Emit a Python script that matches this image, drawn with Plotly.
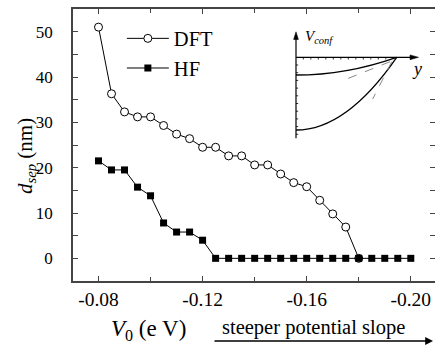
import plotly.graph_objects as go

# ---- data ----
v0_dft = [-0.080, -0.085, -0.090, -0.095, -0.100, -0.105, -0.110, -0.115, -0.120, -0.125,
          -0.130, -0.135, -0.140, -0.145, -0.150, -0.155, -0.160, -0.165, -0.170, -0.175, -0.180]
dsep_dft = [51.0, 36.3, 32.3, 31.2, 31.2, 29.3, 27.4, 26.4, 24.5, 24.5,
            22.6, 22.6, 20.6, 20.6, 18.6, 16.7, 15.8, 12.8, 9.8, 6.9, 0.0]

v0_hf = [-0.080, -0.085, -0.090, -0.095, -0.100, -0.105, -0.110, -0.115, -0.120, -0.125,
         -0.130, -0.135, -0.140, -0.145, -0.150, -0.155, -0.160, -0.165, -0.170, -0.175,
         -0.180, -0.185, -0.190, -0.195, -0.200]
dsep_hf = [21.5, 19.5, 19.5, 15.7, 13.8, 7.8, 5.8, 5.8, 4.0, 0.0,
           0.0, 0.0, 0.0, 0.0, 0.0, 0.0, 0.0, 0.0, 0.0, 0.0,
           0.0, 0.0, 0.0, 0.0, 0.0]

x_tickvals = [-0.08, -0.12, -0.16, -0.20]
x_ticktext = ["-0.08", "-0.12", "-0.16", "-0.20"]
y_tickvals = [0, 10, 20, 30, 40, 50]
y_ticktext = ["0", "10", "20", "30", "40", "50"]
y_inner_ticks = [0, 5, 10, 15, 20, 25, 30, 35, 40, 45, 50]

FONT = "Liberation Serif"

fig = go.Figure()
fig.add_trace(go.Scatter(
    x=v0_dft, y=dsep_dft, mode="lines+markers", name="DFT",
    line=dict(color="black", width=1),
    marker=dict(symbol="circle", size=8, color="white", line=dict(color="black", width=1)),
))
fig.add_trace(go.Scatter(
    x=v0_hf, y=dsep_hf, mode="lines+markers", name="HF",
    line=dict(color="black", width=1),
    marker=dict(symbol="square", size=7, color="black", line=dict(color="black", width=0)),
))

fig.update_layout(
    template="none",
    width=435, height=352,
    margin=dict(l=73, r=0, t=9, b=71),
    paper_bgcolor="white", plot_bgcolor="white",
    font=dict(family=FONT, color="black"),
    xaxis=dict(range=[-0.0702, -0.2093], tickmode="array", tickvals=x_tickvals, ticktext=x_ticktext,
               tickfont=dict(family=FONT, size=19.5, color="black"),
               showline=True, linecolor="#444", linewidth=1.5, mirror="ticks",
               ticks="inside", ticklen=5, tickwidth=1, tickcolor="#444",
               showgrid=False, zeroline=False,
               minor=dict(tickmode="array", tickvals=[-0.10, -0.14, -0.18], ticks="inside", ticklen=4,
                          tickcolor="#444", showgrid=False)),
    yaxis=dict(range=[-5, 55], tickmode="array", tickvals=y_tickvals, ticktext=y_ticktext,
               tickfont=dict(family=FONT, size=17, color="black"),
               showline=True, linecolor="#444", linewidth=1.5, mirror="ticks",
               ticks="outside", ticklen=15, tickwidth=1, tickcolor="rgba(0,0,0,0)",
               showgrid=False, zeroline=False,
               minor=dict(tickmode="array", tickvals=y_inner_ticks, ticks="inside", ticklen=5,
                          tickcolor="#444", showgrid=False)),
    xaxis2=dict(domain=[(290 - 73) / 362, (425 - 73) / 362], range=[290, 425], visible=False,
                anchor="y2", fixedrange=True),
    yaxis2=dict(domain=[(281 - 145) / 272, (281 - 25) / 272], range=[145, 25], visible=False,
                anchor="x2", fixedrange=True),
    showlegend=True,
    legend=dict(x=0.135, y=0.965, xanchor="left", yanchor="top", bgcolor="rgba(0,0,0,0)",
                font=dict(family=FONT, size=20.5, color="black"), itemwidth=42, tracegroupgap=0),
)

# ---- inset schematic (in inset pixel-like coordinates) ----
shapes = []
ref = dict(xref="x2", yref="y2")
shapes.append(dict(type="line", x0=296, y0=138.3, x1=296, y1=38, line=dict(color="black", width=1.2), **ref))
shapes.append(dict(type="path", path="M 293.6 39.5 L 296 31.8 L 298.4 39.5 Z", fillcolor="black",
                   line=dict(color="black", width=0.5), **ref))
shapes.append(dict(type="line", x0=296, y0=57.3, x1=411, y1=57.3, line=dict(color="black", width=1.2), **ref))
shapes.append(dict(type="path", path="M 410 54.9 L 418.5 57.3 L 410 59.7 Z", fillcolor="black",
                   line=dict(color="black", width=0.5), **ref))
for i in range(12):
    xt = 303.3 + 7.5 * i
    shapes.append(dict(type="line", x0=xt, y0=57.3, x1=xt, y1=59.5, line=dict(color="black", width=0.8), **ref))
for i in range(10):
    yt = 65.0 + 7.7 * i
    shapes.append(dict(type="line", x0=296, y0=yt, x1=298.2, y1=yt, line=dict(color="black", width=0.8), **ref))
shapes.append(dict(type="path", path="M 296 75 Q 346.3 75 396.7 57.3", line=dict(color="black", width=1.3), **ref))
shapes.append(dict(type="path", path="M 296 130 Q 346.3 130 396.7 57.3", line=dict(color="black", width=1.3), **ref))
shapes.append(dict(type="line", x0=390, y0=61.7, x1=341.7, y1=81, line=dict(color="#888", width=1, dash="dash"), **ref))
shapes.append(dict(type="line", x0=391.7, y0=61.7, x1=372.7, y1=99, line=dict(color="#888", width=1, dash="dash"), **ref))
fig.update_layout(shapes=shapes)

annotations = [
    dict(xref="x2", yref="y2", x=302.5, y=37, xanchor="left", yanchor="middle", showarrow=False,
         text="<i>V</i><sub><i>conf</i></sub>", font=dict(family=FONT, size=15, color="black")),
    dict(xref="x2", yref="y2", x=417, y=69, xanchor="center", yanchor="middle", showarrow=False,
         text="<i>y</i>", font=dict(family=FONT, size=18, color="black")),
    dict(xref="paper", yref="paper", x=(26 - 73) / 362, y=(281 - 156) / 272, textangle=-90,
         xanchor="center", yanchor="middle", showarrow=False,
         text="<i>d</i><sub><i>sep</i></sub> (nm)", font=dict(family=FONT, size=21, color="black")),
    dict(xref="paper", yref="paper", x=(148 - 73) / 362, y=(281 - 330) / 272,
         xanchor="center", yanchor="middle", showarrow=False,
         text="<i>V</i><sub>0</sub> (e V)", font=dict(family=FONT, size=23, color="black")),
    dict(xref="paper", yref="paper", x=(313 - 73) / 362, y=(281 - 327) / 272,
         xanchor="center", yanchor="middle", showarrow=False,
         text="steeper potential slope", font=dict(family=FONT, size=20.5, color="black")),
    dict(xref="paper", yref="paper", x=(433 - 73) / 362, y=(281 - 341) / 272,
         ax=-220, ay=0, axref="pixel", ayref="pixel", showarrow=True, text="",
         arrowhead=2, arrowsize=1.2, arrowwidth=1.3, arrowcolor="black", standoff=0),
]
fig.update_layout(annotations=annotations)

fig.write_html("out.html", config={"displayModeBar": False},
               post_script="document.body.style.margin='0';document.body.style.padding='0';")
